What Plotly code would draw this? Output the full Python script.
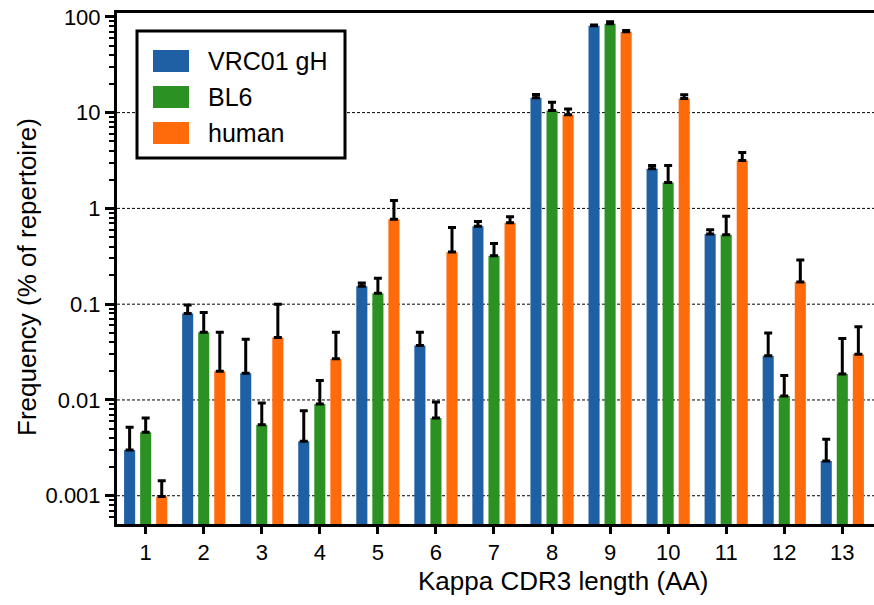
import plotly.graph_objects as go

# ---------------- data ----------------
lengths = [1, 2, 3, 4, 5, 6, 7, 8, 9, 10, 11, 12, 13]
series_names = ["VRC01 gH", "BL6", "human"]
series_colors = ["#1f60a4", "#2c9123", "#ff6a0a"]

vrc01 = [0.0030, 0.080, 0.019, 0.0037, 0.154, 0.037, 0.65, 14.3, 80.5, 2.6, 0.54, 0.029, 0.0023]
vrc01_err = [0.0022, 0.018, 0.024, 0.004, 0.012, 0.014, 0.08, 1.2, 1.5, 0.2, 0.06, 0.021, 0.0016]

bl6 = [0.0046, 0.051, 0.0055, 0.0091, 0.130, 0.0065, 0.32, 10.5, 84.5, 1.86, 0.53, 0.011, 0.0187]
bl6_err = [0.0019, 0.031, 0.0038, 0.0069, 0.057, 0.003, 0.11, 2.3, 4.5, 0.94, 0.30, 0.007, 0.025]

human = [0.00098, 0.020, 0.045, 0.027, 0.77, 0.35, 0.71, 9.5, 70, 14, 3.16, 0.17, 0.030]
human_err = [0.00045, 0.031, 0.055, 0.024, 0.44, 0.28, 0.11, 1.4, 2, 1.4, 0.67, 0.12, 0.028]

y_tick_vals = [0.001, 0.01, 0.1, 1, 10, 100]
y_tick_text = ["0.001", "0.01", "0.1", "1", "10", "100"]
grid_vals = [0.001, 0.01, 0.1, 1, 10]

x_title = "Kappa CDR3 length (AA)"
y_title = "Frequency (% of repertoire)"

# ---------------- figure ----------------
W, H = 874, 605
ML, MR, MT, MB = 117, 0, 13, 81
PW, PH = W - ML - MR, H - MT - MB
FONT = "Arial, Liberation Sans, sans-serif"


def px(x, y):
    return (x - ML) / PW, (H - MB - y) / PH


fig = go.Figure()
for name, color, vals, errs in zip(series_names, series_colors,
                                   [vrc01, bl6, human],
                                   [vrc01_err, bl6_err, human_err]):
    fig.add_trace(go.Bar(
        x=lengths, y=vals, name=name,
        marker=dict(color=color, line=dict(width=0)),
        error_y=dict(type="data", symmetric=False, array=errs,
                     arrayminus=[0] * len(errs),
                     color="black", thickness=3, width=4),
        showlegend=False,
    ))

fig.update_layout(
    width=W, height=H,
    margin=dict(l=ML, r=MR, t=MT, b=MB, pad=0),
    paper_bgcolor="white", plot_bgcolor="white",
    barmode="group", bargap=0.17, bargroupgap=0.31,
    font=dict(family=FONT, color="black", size=22),
    xaxis=dict(
        range=[0.506, 13.546], tickvals=lengths,
        ticktext=[str(v) for v in lengths],
        showline=True, linecolor="black", linewidth=3, mirror=True,
        ticks="outside", ticklen=7, tickwidth=3, tickcolor="black",
        showgrid=False, zeroline=False,
        tickfont=dict(size=22, family=FONT),
    ),
    yaxis=dict(
        type="log", range=[-3.295, 2.04],
        tickvals=y_tick_vals, ticktext=y_tick_text,
        showline=True, linecolor="black", linewidth=3,
        ticks="outside", ticklen=9, tickwidth=3, tickcolor="black",
        showgrid=False, zeroline=False,
        tickfont=dict(size=22, family=FONT),
        minor=dict(ticks="outside", ticklen=5, tickwidth=2,
                   tickcolor="black", dtick="D1", showgrid=False),
    ),
)

# dotted decade gridlines (below the bars)
for gv in grid_vals:
    fig.add_shape(type="line", xref="paper", yref="y", x0=0, x1=1, y0=gv, y1=gv,
                  line=dict(color="black", width=1, dash="3px,2px"), layer="below")

# axis titles
xt, yt = px(563, 581)
fig.add_annotation(text=x_title, xref="paper", yref="paper", x=xt, y=yt,
                   xanchor="center", yanchor="middle", showarrow=False,
                   font=dict(size=26, family=FONT, color="black"))
xt, yt = px(27, 277)
fig.add_annotation(text=y_title, xref="paper", yref="paper", x=xt, y=yt,
                   xanchor="center", yanchor="middle", showarrow=False,
                   textangle=-90,
                   font=dict(size=26, family=FONT, color="black"))

# custom legend box
x0, y0 = px(137, 158)
x1, y1 = px(345, 31)
fig.add_shape(type="rect", xref="paper", yref="paper", x0=x0, y0=y0, x1=x1, y1=y1,
              line=dict(color="black", width=3), fillcolor="white", layer="above")
row_centers = [61, 97, 133]
for name, color, cy in zip(series_names, series_colors, row_centers):
    a0, b0 = px(153, cy + 11)
    a1, b1 = px(189, cy - 11)
    fig.add_shape(type="rect", xref="paper", yref="paper", x0=a0, y0=b0, x1=a1, y1=b1,
                  line=dict(width=0), fillcolor=color, layer="above")
    tx, ty = px(206, cy)
    fig.add_annotation(text=name, xref="paper", yref="paper", x=tx, y=ty,
                       xanchor="left", yanchor="middle", showarrow=False,
                       font=dict(size=25, family=FONT, color="black"))

fig.write_html("out.html")
